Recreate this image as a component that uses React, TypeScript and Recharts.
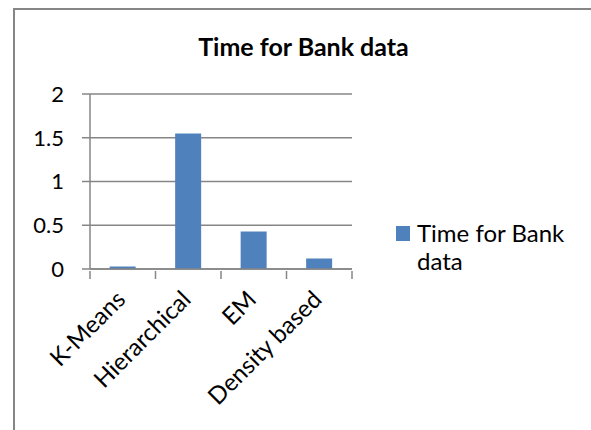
import React from 'react';
import { BarChart, Bar, XAxis, YAxis, CartesianGrid, Legend } from 'recharts';

// Clustering run times on the bank data set
const methods = ['K-Means', 'Hierarchical', 'EM', 'Density based'];
const times = [0.03, 1.55, 0.43, 0.12];
const yTicks = [0, 0.5, 1, 1.5, 2];
const seriesName = 'Time for Bank data';
const titleText = 'Time for Bank data';

const data = methods.map((m, i) => ({ method: m, time: times[i] }));

const FONT = 'Lato, "Open Sans", sans-serif';
const GRID = '#868686';
const BLUE = '#4F81BD';

// Category tick: rotated label plus tick marks on the category boundaries
const MethodTick = (props: any) => {
  const { x, y, payload, index } = props;
  const half = payload.offset || 0;
  const last = index === methods.length - 1;
  const tx = x + 4;
  const ty = y + 22;
  return (
    <g>
      <line x1={x - half} x2={x - half} y1={y - 8} y2={y} stroke={GRID} strokeWidth={1.5} />
      {last && <line x1={x + half} x2={x + half} y1={y - 8} y2={y} stroke={GRID} strokeWidth={1.5} />}
      <text
        x={tx}
        y={ty}
        textAnchor="end"
        transform={`rotate(-45, ${tx}, ${ty})`}
        fontFamily={FONT}
        fontSize={24}
        fill="#000"
      >
        {payload.value}
      </text>
    </g>
  );
};

const LegendBox = () => (
  <div style={{ display: 'flex', alignItems: 'flex-start', fontFamily: FONT, fontSize: 24, lineHeight: '28px', color: '#000', textAlign: 'left' }}>
    <span style={{ display: 'inline-block', width: 14, height: 15, background: BLUE, marginTop: 7, marginRight: 7, flexShrink: 0 }} />
    <span style={{ width: 160 }}>{seriesName}</span>
  </div>
);

export default function App() {
  return (
    <div style={{ position: 'absolute', left: 0, top: 0, width: 591, height: 430, background: '#fff', overflow: 'hidden' }}>
      <div style={{ position: 'absolute', left: 13, top: 8, width: 600, height: 440, borderTop: `2px solid ${GRID}`, borderLeft: `2px solid ${GRID}` }} />
      <div style={{ position: 'absolute', left: 0, top: 31, width: 607, textAlign: 'center', fontFamily: FONT, fontWeight: 700, fontSize: 25, color: '#000' }}>
        {titleText}
      </div>
      <div style={{ position: 'absolute', left: 0, top: 0 }}>
        <BarChart width={591} height={430} data={data} margin={{ top: 94, right: 239, bottom: 61, left: 0 }} barCategoryGap="30%">
          <CartesianGrid vertical={false} stroke={GRID} strokeWidth={1.5} />
          <YAxis
            domain={[0, 2]}
            ticks={yTicks}
            width={90}
            interval={0}
            axisLine={{ stroke: GRID, strokeWidth: 1.5 }}
            tickLine={{ stroke: GRID, strokeWidth: 1.5 }}
            tickSize={8}
            tickMargin={18}
            tick={{ fontFamily: FONT, fontSize: 22, fill: '#000' }}
          />
          <XAxis
            dataKey="method"
            height={100}
            interval={0}
            axisLine={{ stroke: GRID, strokeWidth: 1.5 }}
            tickLine={false}
            tickSize={8}
            tick={<MethodTick />}
          />
          <Legend
            layout="vertical"
            align="center"
            verticalAlign="middle"
            content={<LegendBox />}
            wrapperStyle={{ position: 'absolute', left: 396, top: 219, width: 190 }}
          />
          <Bar dataKey="time" name={seriesName} fill={BLUE} isAnimationActive={false} />
        </BarChart>
      </div>
    </div>
  );
}
